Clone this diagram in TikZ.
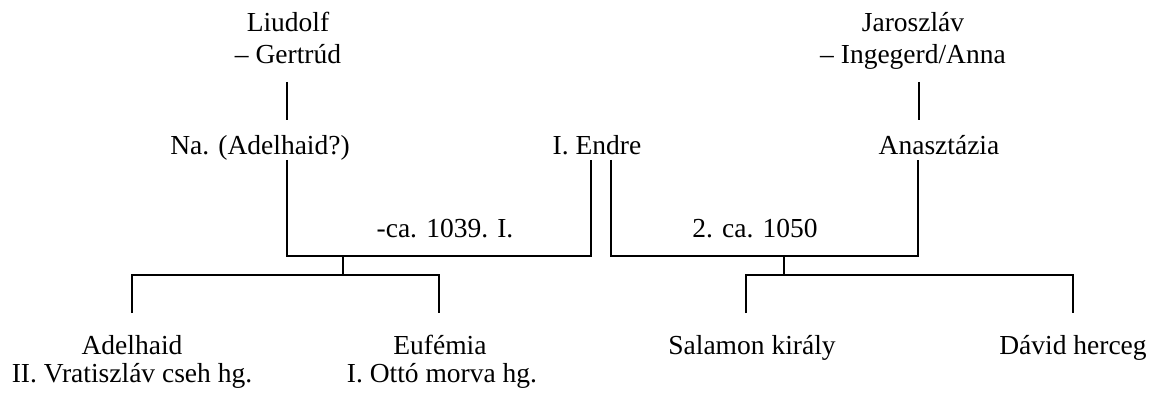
\documentclass[tikz,border=0pt]{standalone}
\usepackage{fontspec}
\setmainfont{Liberation Serif}
\begin{document}
\begin{tikzpicture}[x=1pt,y=-1pt,
  txt/.style={inner sep=0pt,anchor=base,font=\fontsize{27.5}{32}\selectfont},
  ln/.style={draw=black,line width=1.3pt}]
\useasboundingbox (0,0) rectangle (1154,393);
% texts
\node[txt] (liudolf) at (288,32) {Liudolf};
\node[txt] (gertrud) at (288,64) {– Gertrúd};
\node[txt] (jaroszlav) at (913,32) {Jaroszláv};
\node[txt] (ingegerd) at (913,64) {– Ingegerd/Anna};
\node[txt] (na) at (260,155) {Na. (Adelhaid?)};
\node[txt] (endre) at (597,155) {I. Endre};
\node[txt] (anasztazia) at (939,155) {Anasztázia};
\node[txt] (m1) at (445,237) {-ca. 1039. I.};
\node[txt] (m2) at (755,237) {2. ca. 1050};
\node[txt] (adelhaid) at (132,354) {Adelhaid};
\node[txt] (vratiszlav) at (132,382) {II. Vratiszláv cseh hg.};
\node[txt] (eufemia) at (440,354) {Eufémia};
\node[txt] (otto) at (442,382) {I. Ottó morva hg.};
\node[txt] (salamon) at (752,354) {Salamon király};
\node[txt] (david) at (1073,354) {Dávid herceg};
% junction coordinates
\coordinate (g1) at (287,82);  \coordinate (g2) at (287,120);
\coordinate (i1) at (919,82);  \coordinate (i2) at (919,120);
\coordinate (na1) at (287,160); \coordinate (na2) at (287,256);
\coordinate (e1) at (591,160); \coordinate (e2) at (591,256);
\coordinate (e3) at (611,160); \coordinate (e4) at (611,256);
\coordinate (a1) at (918,160); \coordinate (a2) at (918,256);
\coordinate (c1) at (343,256); \coordinate (c2) at (343,275);
\coordinate (ad1) at (132,275); \coordinate (ad2) at (132,313);
\coordinate (eu1) at (439,275); \coordinate (eu2) at (439,313);
\coordinate (d1) at (784,256); \coordinate (d2) at (784,275);
\coordinate (s1) at (746,275); \coordinate (s2) at (746,313);
\coordinate (dv1) at (1073,275); \coordinate (dv2) at (1073,313);
% connectors
\draw[ln] (g1) -- (g2);
\draw[ln] (i1) -- (i2);
\draw[ln] (na1) -- (na2) -- (e2) -- (e1);
\draw[ln] (e3) -- (e4) -- (a2) -- (a1);
\draw[ln] (c1) -- (c2);
\draw[ln] (ad2) -- (ad1) -- (eu1) -- (eu2);
\draw[ln] (d1) -- (d2);
\draw[ln] (s2) -- (s1) -- (dv1) -- (dv2);
\end{tikzpicture}
\end{document}
